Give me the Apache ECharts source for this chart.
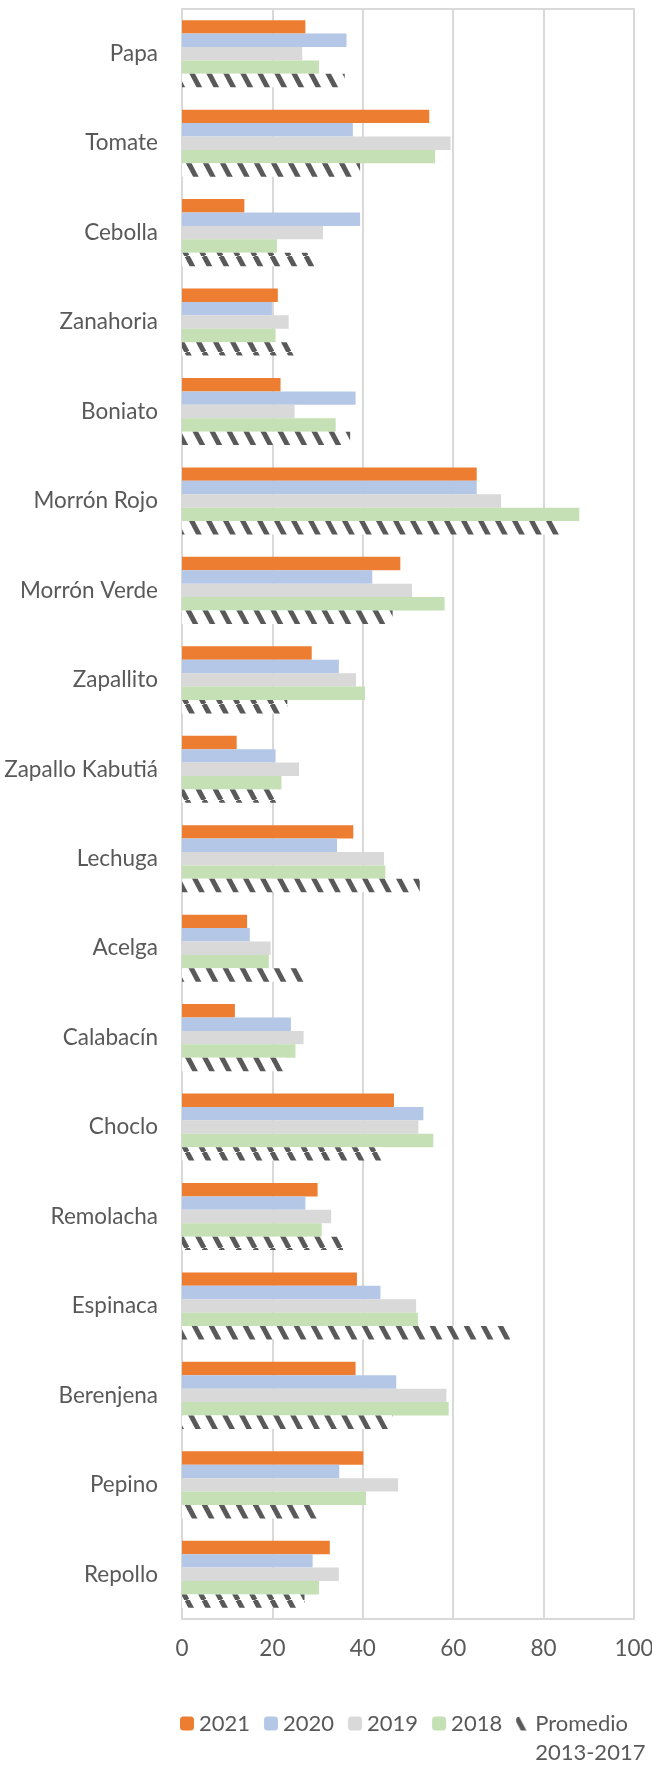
<!DOCTYPE html>
<html lang="es">
<head>
    <meta charset="UTF-8">
    <title>Precios hortalizas</title>
    <style>
        html, body { margin: 0; padding: 0; background: #fff; }
        #main { width: 652px; height: 1765px; }
    </style>
</head>
<body>
<div id="main"></div>
<script src="https://cdn.jsdelivr.net/npm/echarts@6/dist/echarts.min.js"></script>
<script type="text/javascript">
    var categories = ['Papa', 'Tomate', 'Cebolla', 'Zanahoria', 'Boniato', 'Morrón Rojo', 'Morrón Verde',
        'Zapallito', 'Zapallo Kabutiá', 'Lechuga', 'Acelga', 'Calabacín', 'Choclo', 'Remolacha',
        'Espinaca', 'Berenjena', 'Pepino', 'Repollo'];
    var v2021 = [27.3, 54.7, 13.8, 21.2, 21.8, 65.2, 48.3, 28.7, 12.1, 37.9, 14.4, 11.7, 46.9, 30.0, 38.7, 38.4, 40.1, 32.7];
    var v2020 = [36.4, 37.8, 39.4, 19.9, 38.4, 65.2, 42.1, 34.7, 20.7, 34.3, 15.0, 24.1, 53.4, 27.3, 43.9, 47.4, 34.8, 28.9];
    var v2019 = [26.6, 59.4, 31.2, 23.6, 24.9, 70.6, 50.9, 38.5, 25.9, 44.7, 19.6, 26.9, 52.3, 33.0, 51.8, 58.5, 47.8, 34.7];
    var v2018 = [30.3, 56.0, 21.0, 20.7, 34.0, 87.9, 58.1, 40.5, 22.0, 45.0, 19.2, 25.1, 55.6, 30.9, 52.2, 59.0, 40.7, 30.3];
    var promedio = [36.0, 39.4, 29.3, 24.9, 37.2, 83.5, 46.6, 23.3, 21.0, 52.6, 27.6, 23.0, 44.4, 35.6, 72.6, 46.6, 29.9, 27.1];
    var xTicks = [0, 20, 40, 60, 80, 100];

    // rayado diagonal para el promedio
    function hatch() {
        var w = 17, h = 32;
        var c = document.createElement('canvas');
        c.width = w; c.height = h;
        var ctx = c.getContext('2d');
        ctx.fillStyle = '#fff';
        ctx.fillRect(0, 0, w, h);
        ctx.strokeStyle = '#595959';
        ctx.lineWidth = 5;
        for (var k = -1; k <= 1; k++) {
            ctx.beginPath();
            ctx.moveTo(k * w, 0);
            ctx.lineTo(k * w + w, h);
            ctx.stroke();
        }
        return c;
    }

    var font = 'Lato';
    var gray = '#595959';
    var chart = echarts.init(document.getElementById('main'));

    function bar(name, data, color) {
        return {
            name: name,
            type: 'bar',
            data: data,
            barGap: '0%',
            barCategoryGap: '25%',
            itemStyle: { color: color },
            emphasis: { disabled: true }
        };
    }

    var option = {
        animation: false,
        grid: {
            left: 182, right: 18, top: 9, bottom: 146,
            outerBoundsMode: 'none',
            show: true, borderColor: '#d9d9d9', borderWidth: 2
        },
        legend: {
            left: 180,
            top: 1680,
            width: 520,
            padding: 0,
            itemWidth: 14,
            itemHeight: 14,
            itemGap: 14,
            textStyle: { fontFamily: font, fontSize: 22, color: gray },
            data: ['2021', '2020', '2019', '2018',
                { name: 'Promedio 2013-2017', textStyle: { lineHeight: 29 } }],
            // línea vacía arriba para que "Promedio" quede a la altura del icono
            formatter: function (n) { return n === 'Promedio 2013-2017' ? ' \nPromedio\n2013-2017' : n; }
        },
        xAxis: {
            type: 'value',
            min: xTicks[0],
            max: xTicks[xTicks.length - 1],
            interval: 20,
            axisLine: { show: false },
            axisTick: { show: false },
            splitLine: { lineStyle: { color: '#d9d9d9', width: 2 } },
            axisLabel: { fontFamily: font, fontSize: 22.5, color: gray, margin: 18 }
        },
        yAxis: {
            type: 'category',
            data: categories,
            inverse: true,
            axisTick: { show: false },
            axisLine: { lineStyle: { color: '#d9d9d9', width: 2 } },
            axisLabel: { fontFamily: font, fontSize: 22.5, color: gray, margin: 24 }
        },
        series: [
            bar('2021', v2021, '#ED7D31'),
            bar('2020', v2020, '#B4C7E7'),
            bar('2019', v2019, '#D9D9D9'),
            bar('2018', v2018, '#C5E0B4'),
            bar('Promedio 2013-2017', promedio, { image: hatch(), repeat: 'repeat' })
        ]
    };
    option && chart.setOption(option);
</script>
</body>
</html>
